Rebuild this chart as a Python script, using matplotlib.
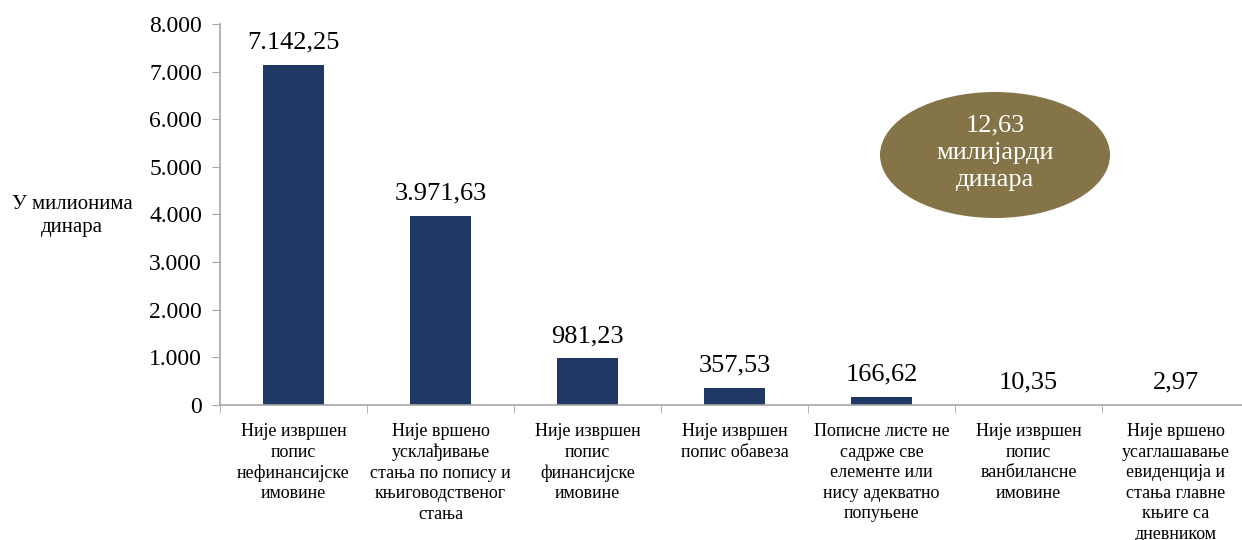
import numpy as np
import matplotlib
matplotlib.use("Agg")
import matplotlib.pyplot as plt
from matplotlib.patches import Ellipse
from matplotlib.ticker import FuncFormatter

plt.rcParams["font.family"] = ["Liberation Serif", "DejaVu Serif"]

categories = [
    "Није извршен\nпопис\nнефинансијске\nимовине",
    "Није вршено\nусклађивање\nстања по попису и\nкњиговодственог\nстања",
    "Није извршен\nпопис\nфинансијске\nимовине",
    "Није извршен\nпопис обавеза",
    "Пописне листе не\nсадрже све\nелементе или\nнису адекватно\nпопуњене",
    "Није извршен\nпопис\nванбилансне\nимовине",
    "Није вршено\nусаглашавање\nевиденција и\nстања главне\nкњиге са\nдневником",
]
values = [7142.25, 3971.63, 981.23, 357.53, 166.62, 10.35, 2.97]
y_ticks = [0, 1000, 2000, 3000, 4000, 5000, 6000, 7000, 8000]
total_text = "12,63\nмилијарди\nдинара"

BAR = "#1f3864"
AXIS = "#a6a6a6"
OVAL = "#857447"


def sr_num(v, dec=2):
    s = f"{v:,.{dec}f}"
    return s.replace(",", "X").replace(".", ",").replace("X", ".")


fig = plt.figure(figsize=(12.42, 5.4), dpi=100)
ax = fig.add_axes([220 / 1242, 0.25, 1029 / 1242, 0.7056])

x = np.arange(len(values))
ax.bar(x, values, width=0.41, color=BAR, zorder=2)
for xi, v in zip(x, values):
    ax.annotate(sr_num(v), (xi, v), xytext=(0, 8), textcoords="offset points",
                ha="center", va="bottom", fontsize=19)

ax.set_xlim(-0.5, len(values) - 0.5)
ax.set_ylim(0, 8000)
ax.set_yticks(y_ticks)
ax.yaxis.set_major_formatter(FuncFormatter(lambda v, p: sr_num(v, 0)))
ax.tick_params(axis="y", labelsize=17, length=6, color=AXIS, pad=7)

ax.set_xticks(x)
ax.set_xticklabels(categories, fontsize=13, linespacing=1.27)
ax.tick_params(axis="x", which="major", length=0, pad=13)
ax.set_xticks(np.arange(len(values) + 1) - 0.5, minor=True)
ax.tick_params(axis="x", which="minor", length=6, color=AXIS)

for side in ["top", "right"]:
    ax.spines[side].set_visible(False)
for side in ["left", "bottom"]:
    ax.spines[side].set_color(AXIS)
    ax.spines[side].set_linewidth(1.2)

fig.text(72 / 1242, 1 - 216 / 540, "У милионима\nдинара", ha="center", va="center",
         fontsize=15, linespacing=1.25)

oval = Ellipse((995 / 1242, 1 - 155 / 540), 230 / 1242, 126 / 540,
               transform=fig.transFigure, facecolor=OVAL, edgecolor="none")
fig.patches.append(oval)
fig.text(995 / 1242, 1 - 153 / 540, total_text, ha="center", va="center",
         color="white", fontsize=19, linespacing=1.3)

fig.savefig("out.png", dpi=100)
